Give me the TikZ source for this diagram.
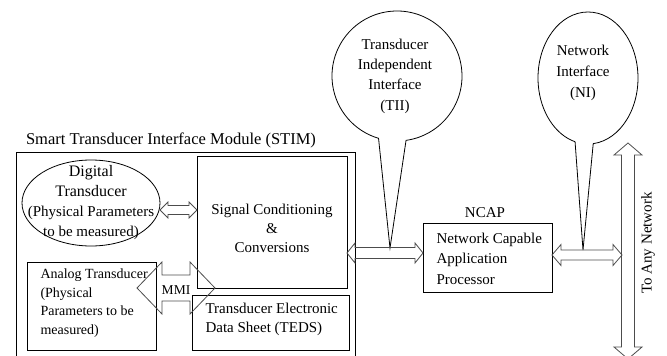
\documentclass[tikz,border=0pt]{standalone}
\usepackage{fontspec}
\setmainfont{Liberation Serif}
\usetikzlibrary{calc,shapes.geometric}

\tikzstyle{caja}= [rectangle,draw,black,line width=0.8pt,inner sep=0pt,outer sep=0pt]
\tikzstyle{texto}= [align=center,font=\fontsize{15}{20}\selectfont]
\tikzstyle{textoizq}= [align=left,font=\fontsize{15}{19.5}\selectfont]
\tikzstyle{flecha}= [draw=black!70,line width=0.8pt,line join=miter]
\tikzstyle{globo}= [draw,black,line width=0.8pt]

% hollow double arrows: ends #1 and #2, half shaft #3, half head #4, head length #5
\newcommand{\hflecha}[5]{%
  \draw[flecha] (#1) -- ($(#1)+(#5,-#4)$) -- ($(#1)+(#5,-#3)$) -- ($(#2)+(-#5,-#3)$)
    -- ($(#2)+(-#5,-#4)$) -- (#2) -- ($(#2)+(-#5,#4)$) -- ($(#2)+(-#5,#3)$)
    -- ($(#1)+(#5,#3)$) -- ($(#1)+(#5,#4)$) -- cycle;}
\newcommand{\vflecha}[5]{%
  \draw[flecha] (#1) -- ($(#1)+(-#4,#5)$) -- ($(#1)+(-#3,#5)$) -- ($(#2)+(-#3,-#5)$)
    -- ($(#2)+(-#4,-#5)$) -- (#2) -- ($(#2)+(#4,-#5)$) -- ($(#2)+(#3,-#5)$)
    -- ($(#1)+(#3,#5)$) -- ($(#1)+(#4,#5)$) -- cycle;}

\begin{document}
\begin{tikzpicture}[x=1pt,y=-1pt]
		\useasboundingbox (0,0) rectangle (667,356);

		% STIM
		\node (titulo) at (171,140) [font=\fontsize{16.5}{20}\selectfont] {Smart Transducer Interface Module (STIM)};
		\node (stim) at (185.5,257) [caja,minimum width=339,minimum height=210] {};

		\node (dig) at (91,203) [ellipse,draw,line width=0.8pt,minimum width=138,minimum height=86,inner sep=0pt,outer sep=0pt] {};
		\node (digtxt) at (91,203) [texto] {{\fontsize{16}{20}\selectfont Digital}\\{\fontsize{16}{20}\selectfont Transducer}\\(Physical Parameters\\to be measured)};

		\node (sc) at (272,222) [caja,minimum width=150,minimum height=132] {};
		\node (sctxt) at (272,228) [texto,font=\fontsize{15}{19}\selectfont] {Signal Conditioning\\\&\\Conversions};

		\node (ana) at (91.5,306) [caja,minimum width=129,minimum height=88] {};
		\node (anatxt) at (37,303) [textoizq,anchor=west,font=\fontsize{14}{18.5}\selectfont] {Analog Transducer\\(Physical\\Parameters to be\\measured)};

		\node (teds) at (270.5,322.5) [caja,minimum width=157,minimum height=55] {};
		\node (tedstxt) at (202,319.5) [textoizq,anchor=west] {Transducer Electronic\\Data Sheet (TEDS)};

		% NCAP
		\node (ncaplbl) at (485,213) [texto] {NCAP};
		\node (ncap) at (487.5,257.5) [caja,minimum width=129,minimum height=69] {};
		\node (ncaptxt) at (433,258.5) [textoizq,anchor=west,font=\fontsize{15}{20.5}\selectfont] {Network Capable\\Application\\Processor};

		% balloons
		\coordinate (tiic) at (397,76);
		\coordinate (tiitip) at (390,248);
		\node (tii) at (395,76) [texto,font=\fontsize{15}{20.3}\selectfont] {Transducer\\Independent\\Interface\\(TII)};
		\draw[globo] (tiic) ++(-82:65pt) arc[start angle=-82,end angle=253.5,radius=65pt] -- (tiitip) -- cycle;

		\coordinate (nic) at (588,78);
		\coordinate (nitip) at (583,250);
		\node (ni) at (583,73) [texto,font=\fontsize{15}{21}\selectfont] {Network\\Interface\\(NI)};
		\draw[globo] (nic) ++(-84:50pt and 66pt) arc[start angle=-84,end angle=255,x radius=50pt,y radius=66pt] -- (nitip) -- cycle;

		% network
		\node (red) at (648,243) [texto,rotate=90] {To Any Network};

		% arrows
		\coordinate (d1) at (dig.east |- 0,210);
		\coordinate (d2) at (sc.west |- 0,210);
		\hflecha{d1}{d2}{4.5}{8}{8}

		\coordinate (mmiL) at (137,288);
		\coordinate (mmiR) at (215,288);
		\hflecha{mmiL}{mmiR}{13}{26}{25}
		\node (mmi) at (176,290) [font=\fontsize{13.5}{16}\selectfont] {MMI};

		\coordinate (s1) at (sc.east |- 0,253);
		\coordinate (s2) at (ncap.west |- 0,253);
		\hflecha{s1}{s2}{5.5}{10}{8}

		\coordinate (n1) at (ncap.east |- 0,255);
		\coordinate (n2) at (622,255);
		\hflecha{n1}{n2}{5}{10.5}{9}

		\coordinate (redA) at (628,143);
		\coordinate (redB) at (628,359);
		\vflecha{redA}{redB}{6.5}{14}{12}

	\end{tikzpicture}
\end{document}
